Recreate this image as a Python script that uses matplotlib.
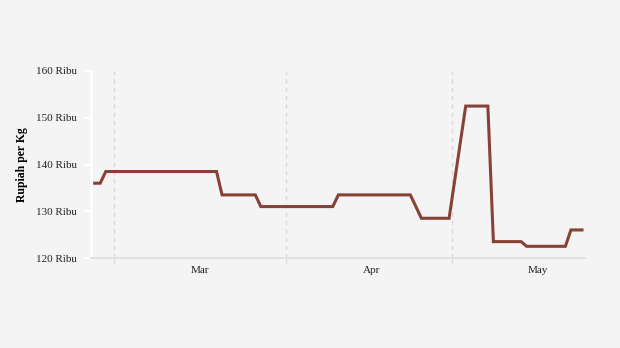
import matplotlib.pyplot as plt
import pandas as pd

# tanggal perubahan harga dan nilainya (ribu rupiah per kg)
dates = ['2024-02-26', '2024-02-27', '2024-02-28', '2024-03-19', '2024-03-20',
         '2024-03-26', '2024-03-27', '2024-04-09', '2024-04-10', '2024-04-23',
         '2024-04-25', '2024-04-30', '2024-05-03', '2024-05-07', '2024-05-08',
         '2024-05-13', '2024-05-14', '2024-05-21', '2024-05-22', '2024-05-24']
prices = [136.0, 136.0, 138.5, 138.5, 133.5,
          133.5, 131.0, 131.0, 133.5, 133.5,
          128.5, 128.5, 152.5, 152.5, 123.5,
          123.5, 122.5, 122.5, 126.0, 126.0]

yticks = [120, 130, 140, 150, 160]
ylabels = ['120 Ribu', '130 Ribu', '140 Ribu', '150 Ribu', '160 Ribu']
month_names = ['Mar', 'Apr', 'May']

plt.rcParams['font.family'] = ['Liberation Serif', 'DejaVu Serif']

x = pd.to_datetime(dates) + pd.Timedelta(hours=12)

fig = plt.figure(figsize=(6.2, 3.48), dpi=100)
fig.patch.set_facecolor('#f4f4f4')
ax = fig.add_axes([91/620, 1 - 258/348, 494/620, 187/348])
ax.set_facecolor('#f4f4f4')

ax.plot(x, prices, color='#874137', linewidth=2.2, solid_joinstyle='miter')

ax.set_ylim(120, 160)
ax.set_yticks(yticks)
ax.set_yticklabels(ylabels, fontsize=8, color='#222222')
ax.set_xlim(pd.Timestamp('2024-02-25 20:00'), pd.Timestamp('2024-05-25 01:00'))

# garis bulan (mayor) dan label di tengah bulan (minor)
month_starts = pd.to_datetime(['2024-03-01', '2024-04-01', '2024-05-01'])
month_mids = pd.to_datetime(['2024-03-16 12:00', '2024-04-16 12:00', '2024-05-16 12:00'])
ax.set_xticks(month_starts)
ax.set_xticklabels([])
ax.set_xticks(month_mids, minor=True)
ax.set_xticklabels(month_names, minor=True, fontsize=8, color='#222222')
ax.tick_params(axis='x', which='major', length=4, color='#dddddd', width=1)
ax.tick_params(axis='x', which='minor', length=0, pad=6)
ax.tick_params(axis='y', length=5, width=1.5, color='white', pad=5)
ax.xaxis.grid(True, which='major', color='#d8d8d8', linestyle=(0, (3, 3)), linewidth=1)

for s in ['top', 'right']:
    ax.spines[s].set_visible(False)
ax.spines['left'].set_color('white')
ax.spines['left'].set_linewidth(2)
ax.spines['bottom'].set_color('#e2e2e2')
ax.spines['bottom'].set_linewidth(1.5)

ax.set_ylabel('Rupiah per Kg', fontsize=8.5, fontweight='bold', labelpad=6)

fig.savefig('out.png', dpi=100, facecolor=fig.get_facecolor())
